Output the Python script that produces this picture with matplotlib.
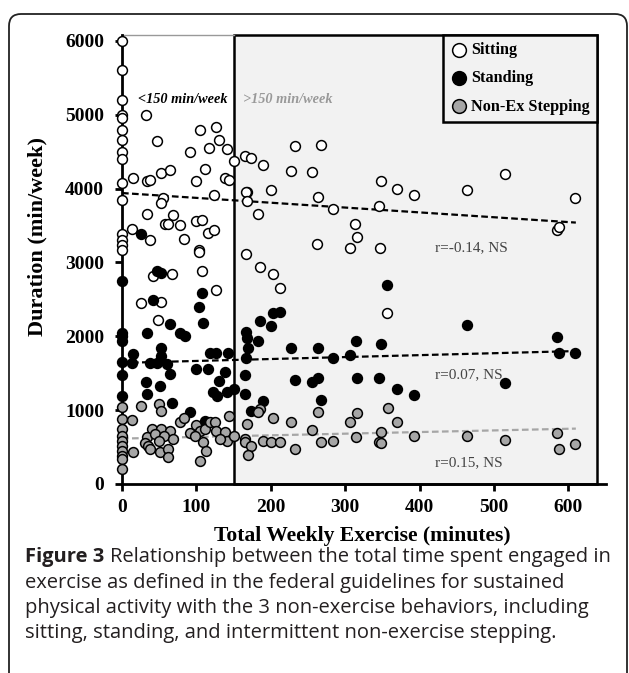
import matplotlib
matplotlib.use("Agg")
import matplotlib.pyplot as plt
import matplotlib.patches as mpatches
from matplotlib.transforms import IdentityTransform

# data (x = total weekly exercise, y = min/week)
sit_x = [0, 0, 0, 0, 0, 0, 0, 0, 0, 0, 0, 0, 0, 0, 0,
         32, 47, 105, 127, 131, 117, 141, 92, 150, 15, 33, 37, 52, 65, 112, 99, 138, 144,
         123, 55, 52, 34, 68, 58, 62, 78, 99, 108, 116, 123, 13, 37, 84, 103,
         41, 67, 26, 53, 49, 103, 107, 127,
         165, 174, 190, 232, 267, 227, 255, 168, 166, 168, 200, 183, 264, 283, 313, 316,
         306, 262, 347, 348, 370, 392, 345, 167, 186, 203, 212, 356,
         464, 515, 609, 585, 588]
sit_y = [6000, 5600, 5200, 5000, 4950, 4800, 4660, 4500, 4400, 4080, 3850, 3380, 3310, 3240, 3175,
         5000, 4650, 4800, 4830, 4660, 4550, 4535, 4500, 4380, 4145, 4100, 4110, 4210, 4250, 4265, 4100, 4150, 4110,
         3920, 3875, 3805, 3650, 3640, 3525, 3525, 3510, 3560, 3570, 3400, 3445, 3455, 3310, 3320, 3165,
         2815, 2840, 2455, 2465, 2220, 3140, 2880, 2625,
         4435, 4415, 4325, 4580, 4590, 4235, 4220, 3950, 3960, 3830, 3975, 3660, 3890, 3730, 3525, 3345,
         3200, 3245, 3190, 4100, 3995, 3920, 3770, 3110, 2940, 2840, 2660, 2310,
         3985, 4200, 3875, 3445, 3480]

stand_x = [0, 0, 0, 0, 0, 0, 0, 26,
           47, 53, 41, 34, 65, 78, 85, 107, 103, 109, 15, 13, 37, 47, 53, 53, 60, 65,
           100, 116, 118, 127, 143, 138, 131, 32, 34, 51, 122, 128, 141, 151, 67, 91, 112,
           356, 203, 213, 185, 200, 167, 168, 183, 170, 167, 227, 264, 283, 306, 314, 348,
           165, 232, 256, 263, 316, 346, 370, 392, 165, 190, 267, 174,
           464, 585, 588, 609, 515]
stand_y = [2750, 2050, 2000, 1930, 1650, 1470, 1190, 3380,
           2880, 2860, 2490, 2040, 2160, 2040, 2005, 2590, 2400, 2175, 1755, 1645, 1645, 1645, 1845, 1735, 1620, 1485,
           1555, 1555, 1780, 1780, 1780, 1510, 1395, 1380, 1215, 1330, 1250, 1195, 1240, 1285, 1095, 970, 855,
           2690, 2320, 2330, 2210, 2140, 2060, 1980, 1935, 1835, 1710, 1835, 1845, 1710, 1745, 1930, 1890,
           1475, 1410, 1375, 1440, 1430, 1440, 1290, 1205, 1215, 1125, 1140, 990,
           2150, 1995, 1780, 1780, 1365]

step_x = [0, 0, 0, 0, 0, 0, 0, 0, 0, 0,
          26, 50, 53, 13, 78, 83, 40, 53, 65, 33, 44, 56, 69, 50, 31, 35, 38, 15, 51, 62, 62,
          91, 100, 105, 112, 118, 125, 127, 138, 141, 132, 109, 113, 105, 98, 144, 150,
          185, 183, 203, 227, 264, 256, 316, 306, 357, 370, 348, 168, 165, 165, 174, 170,
          190, 200, 213, 232, 267, 283, 314, 346, 348, 392,
          464, 515, 585, 588, 609]
step_y = [1040, 880, 740, 650, 585, 520, 450, 385, 340, 200,
          1060, 1080, 990, 870, 840, 900, 745, 750, 720, 630, 675, 645, 610, 585, 555, 520, 475, 435, 435, 480, 360,
          690, 800, 720, 745, 835, 840, 720, 700, 585, 610, 565, 450, 315, 655, 925, 655,
          1020, 970, 900, 840, 975, 735, 960, 835, 1025, 835, 700, 810, 615, 565, 520, 390,
          585, 570, 570, 480, 570, 585, 630, 570, 560, 645,
          655, 600, 690, 475, 540]

# regression lines (end points)
trend_x = [0, 610]
sit_trend = [3940, 3540]
stand_trend = [1640, 1800]
step_trend = [615, 750]

serif = "Liberation Serif"

fig = plt.figure(figsize=(6.29, 6.73), dpi=100)
ax = fig.add_axes([122 / 629, 189 / 673, 483.6 / 629, 449 / 673])
ax.set_xlim(0, 650)
ax.set_ylim(0, 6080)

# shaded >150 min/week region
ax.add_patch(mpatches.Rectangle((150, 0), 488, 6080, facecolor="#f2f2f2",
                                edgecolor="black", lw=1.8, zorder=1, clip_on=False))
ax.plot([0, 150], [6080, 6080], color="#999999", lw=1, zorder=1, clip_on=False)

ax.plot(trend_x, sit_trend, ls=(0, (3, 1.5)), color="black", lw=1.6, zorder=2)
ax.plot(trend_x, stand_trend, ls=(0, (3, 1.5)), color="black", lw=1.6, zorder=2)
ax.plot(trend_x, step_trend, ls=(0, (3, 1.5)), color="#a6a6a6", lw=1.6, zorder=2)

ax.scatter(sit_x, sit_y, s=50, facecolor="white", edgecolor="black", lw=1.1,
           zorder=3, clip_on=False, label="Sitting")
ax.scatter(stand_x, stand_y, s=50, facecolor="black", edgecolor="black", lw=1.1,
           zorder=4, clip_on=False, label="Standing")
ax.scatter(step_x, step_y, s=50, facecolor="#a6a6a6", edgecolor="black", lw=1.1,
           zorder=5, clip_on=False, label="Non-Ex Stepping")

for sp in ["top", "right"]:
    ax.spines[sp].set_visible(False)
ax.spines["left"].set_linewidth(2)
ax.spines["bottom"].set_linewidth(2)

ax.set_xticks([0, 100, 200, 300, 400, 500, 600])
ax.set_yticks([0, 1000, 2000, 3000, 4000, 5000, 6000])
ax.tick_params(length=5, width=2, direction="out", pad=8)
ax.tick_params(axis="x", pad=6)
for lab in ax.get_xticklabels() + ax.get_yticklabels():
    lab.set_fontfamily(serif)
    lab.set_fontweight("bold")
    lab.set_fontsize(14)

ax.text(22, 5200, "<150 min/week", fontfamily=serif, fontweight="bold", fontstyle="italic",
        fontsize=10.3, va="center", zorder=6)
ax.text(163, 5200, ">150 min/week", fontfamily=serif, fontweight="bold", fontstyle="italic",
        fontsize=10.3, color="#999999", va="center", zorder=6)

ax.text(421, 3195, "r=-0.14, NS", fontfamily=serif, fontsize=11, color="#444444", va="center")
ax.text(421, 1477, "r=0.07, NS", fontfamily=serif, fontsize=11, color="#444444", va="center")
ax.text(421, 285, "r=0.15, NS", fontfamily=serif, fontsize=11, color="#444444", va="center")

leg = ax.legend(loc="upper right", bbox_to_anchor=(638 / 650, 1.0), borderaxespad=0,
                frameon=True, fancybox=False, edgecolor="black", facecolor="#f2f2f2",
                framealpha=1, handletextpad=0.15, labelspacing=0.75, borderpad=0.45,
                markerscale=1.4, handlelength=1.1,
                prop={"family": serif, "weight": "bold", "size": 11.7})
leg.get_frame().set_linewidth(1.8)
leg.set_zorder(7)

fig.text(37 / 629, 1 - 236 / 673, "Duration (min/week)", rotation=90, ha="center", va="center",
         fontfamily=serif, fontweight="bold", fontsize=16)
fig.text(362 / 629, 1 - 536 / 673, "Total Weekly Exercise (minutes)", ha="center", va="center",
         fontfamily=serif, fontweight="bold", fontsize=15.6)

# caption
cap_font = "Open Sans"
cap_col = "#231f20"
cap_size = 14.5
lines = ["Relationship between the total time spent engaged in",
         "exercise as defined in the federal guidelines for sustained",
         "physical activity with the 3 non-exercise behaviors, including",
         "sitting, standing, and intermittent non-exercise stepping."]
line_y = [557, 583, 608, 633]
head = fig.text(25 / 629, 1 - line_y[0] / 673, "Figure 3", fontfamily=cap_font, fontweight="bold",
                fontsize=cap_size, color=cap_col, va="center")
fig.canvas.draw()
bb = head.get_window_extent()
fig.text((bb.x1 + 6) / 629, 1 - line_y[0] / 673, lines[0], fontfamily=cap_font,
         fontsize=cap_size, color=cap_col, va="center")
for txt, yy in zip(lines[1:], line_y[1:]):
    fig.text(25 / 629, 1 - yy / 673, txt, fontfamily=cap_font, fontsize=cap_size,
             color=cap_col, va="center")

# rounded outer frame
fig.patches.append(mpatches.FancyBboxPatch((9, -60), 618, 659 + 60,
                                           boxstyle="round,pad=0,rounding_size=12",
                                           transform=IdentityTransform(), fill=False,
                                           lw=1.3, edgecolor="#222222"))

fig.savefig("out.png", dpi=100)
